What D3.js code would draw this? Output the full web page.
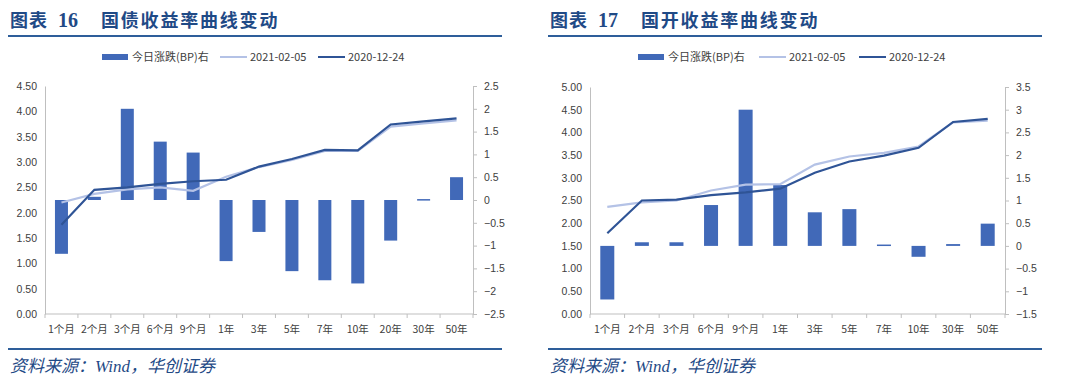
<!DOCTYPE html>
<html>
<head>
<meta charset="utf-8">
<script src="https://cdn.jsdelivr.net/npm/d3@7"></script>
<style>
  body { margin: 0; background: #fff; }
  svg { display: block; }
</style>
</head>
<body>
<svg id="chart"></svg>
<script>
// 国债
var bondCats = ["1个月","2个月","3个月","6个月","9个月","1年","3年","5年","7年","10年","20年","30年","50年"];
var bondChange = [-1.18, 0.07, 2.0, 1.28, 1.04, -1.34, -0.70, -1.56, -1.76, -1.83, -0.89, 0.02, 0.50];
var bondY0205 = [2.20, 2.37, 2.46, 2.50, 2.43, 2.71, 2.90, 3.04, 3.22, 3.22, 3.70, 3.76, 3.82];
var bondY1224 = [1.76, 2.45, 2.50, 2.57, 2.62, 2.65, 2.91, 3.06, 3.24, 3.23, 3.74, 3.80, 3.86];

// 国开
var cdbCats = ["1个月","2个月","3个月","6个月","9个月","1年","3年","5年","7年","10年","30年","50年"];
var cdbChange = [-1.18, 0.08, 0.08, 0.90, 3.0, 1.34, 0.74, 0.81, 0.03, -0.24, 0.04, 0.49];
var cdbY0205 = [2.36, 2.46, 2.50, 2.72, 2.85, 2.86, 3.29, 3.47, 3.55, 3.69, 4.22, 4.26];
var cdbY1224 = [1.78, 2.50, 2.52, 2.62, 2.68, 2.76, 3.11, 3.36, 3.49, 3.66, 4.23, 4.30];

var legendNames = ["今日涨跌(BP)右", "2021-02-05", "2020-12-24"];

var svg = d3.select("#chart").attr("width", 1080).attr("height", 388);
var width = 1080, height = 388;

var barColor = "#4169B8";
var lightColor = "#B4C2E6";
var darkColor = "#2F5496";
var titleColor = "#1F4A86";
var axisColor = "#BFBFBF";
var textColor = "#404040";
var cjk = "'Noto Sans CJK SC', 'Noto Sans', sans-serif";
var serif = "'Liberation Serif', 'Noto Sans CJK SC', serif";

svg.append("rect").attr("width", width).attr("height", height).attr("fill", "#fff");

function drawPanel(o) {
  var g = svg.append("g").attr("transform", "translate(" + o.x + ",0)");

  // title, in three parts like the report's spacing
  var tt = g.append("g").attr("font-family", serif).attr("font-weight", "bold")
    .attr("font-size", 18).attr("fill", titleColor);
  tt.append("text").attr("x", 10).attr("y", 27).attr("letter-spacing", 1).text("图表");
  tt.append("text").attr("x", 58).attr("y", 27).attr("font-size", 20).text(o.num);
  tt.append("text").attr("x", 101).attr("y", 27).attr("letter-spacing", 1.8).text(o.title);

  g.append("line")
    .attr("x1", 8).attr("x2", 502).attr("y1", 36).attr("y2", 36)
    .attr("stroke", "#2E5E9A").attr("stroke-width", 2);

  g.append("line")
    .attr("x1", 8).attr("x2", 502).attr("y1", 349).attr("y2", 349)
    .attr("stroke", "#2E5E9A").attr("stroke-width", 2);

  g.append("text")
    .attr("x", 10).attr("y", 372)
    .attr("font-family", serif)
    .attr("font-style", "italic")
    .attr("font-size", 17)
    .attr("fill", titleColor)
    .text("资料来源：Wind，华创证券");

  // legend
  var lg = g.append("g").attr("font-family", cjk).attr("font-size", 11).attr("fill", textColor);
  lg.append("rect").attr("x", o.leg[0]).attr("y", 54).attr("width", 26).attr("height", 6).attr("fill", barColor);
  lg.append("text").attr("x", o.leg[0] + 30).attr("y", 61).text(legendNames[0]);
  lg.append("line").attr("x1", o.leg[1]).attr("x2", o.leg[1] + 27).attr("y1", 57).attr("y2", 57)
    .attr("stroke", lightColor).attr("stroke-width", 2);
  lg.append("text").attr("x", o.leg[1] + 30).attr("y", 61).text(legendNames[1]);
  lg.append("line").attr("x1", o.leg[2]).attr("x2", o.leg[2] + 27).attr("y1", 57).attr("y2", 57)
    .attr("stroke", darkColor).attr("stroke-width", 2);
  lg.append("text").attr("x", o.leg[2] + 30).attr("y", 61).text(legendNames[2]);

  // scales
  var x = d3.scaleBand().domain(o.cats).range([o.left, o.right]).paddingInner(0).paddingOuter(0);
  var yL = d3.scaleLinear().domain(o.leftDomain).range([o.bottom, o.top]);
  var yR = d3.scaleLinear().domain(o.rightDomain).range([o.bottom, o.top]);

  // left axis
  var leftTicks = d3.range(o.leftDomain[0], o.leftDomain[1] + 0.001, 0.5);
  var axL = g.append("g").attr("transform", "translate(" + o.left + ",0)")
    .call(d3.axisLeft(yL).tickValues(leftTicks).tickFormat(d3.format(".2f")).tickSize(0).tickPadding(8));
  axL.select(".domain").attr("stroke", axisColor);
  axL.selectAll("text").attr("font-family", "'Liberation Sans', 'Noto Sans', sans-serif")
    .attr("font-size", 10.5).attr("fill", textColor);

  // right axis
  var rightTicks = d3.range(o.rightDomain[0], o.rightDomain[1] + 0.001, 0.5);
  var axR = g.append("g").attr("transform", "translate(" + o.right + ",0)")
    .call(d3.axisRight(yR).tickValues(rightTicks).tickFormat(d => d3.format("")(+d.toFixed(1))).tickSize(4).tickPadding(7));
  axR.select(".domain").attr("stroke", axisColor);
  axR.selectAll("line").attr("stroke", axisColor);
  axR.selectAll("text").attr("font-family", "'Liberation Sans', 'Noto Sans', sans-serif")
    .attr("font-size", 10.5).attr("fill", textColor).attr("text-anchor", "start");

  // x axis
  var axX = g.append("g").attr("transform", "translate(0," + o.bottom + ")");
  axX.append("line").attr("x1", o.left).attr("x2", o.right).attr("y1", 0).attr("y2", 0).attr("stroke", axisColor);
  axX.selectAll("line.tk")
    .data(d3.range(o.cats.length + 1))
    .enter().append("line")
    .attr("class", "tk")
    .attr("x1", i => o.left + i * x.step()).attr("x2", i => o.left + i * x.step())
    .attr("y1", 0).attr("y2", 4)
    .attr("stroke", axisColor);
  axX.selectAll("text")
    .data(o.cats)
    .enter().append("text")
    .attr("x", d => x(d) + x.bandwidth() / 2)
    .attr("y", 19)
    .attr("text-anchor", "middle")
    .attr("font-family", cjk)
    .attr("font-size", 10.5)
    .attr("fill", textColor)
    .text(d => d);

  // bars
  var bw = o.barW;
  g.append("g").selectAll("rect")
    .data(o.change)
    .enter().append("rect")
    .attr("x", (d, i) => x(o.cats[i]) + x.bandwidth() / 2 - bw / 2)
    .attr("width", bw)
    .attr("y", d => Math.min(yR(d), yR(0)))
    .attr("height", d => Math.max(1.5, Math.abs(yR(d) - yR(0))))
    .attr("fill", barColor);

  // lines
  var line = d3.line()
    .x((d, i) => x(o.cats[i]) + x.bandwidth() / 2)
    .y(d => yL(d));

  g.append("path").datum(o.light)
    .attr("d", line).attr("fill", "none")
    .attr("stroke", lightColor).attr("stroke-width", 2.2);
  g.append("path").datum(o.dark)
    .attr("d", line).attr("fill", "none")
    .attr("stroke", darkColor).attr("stroke-width", 2.2);
}

drawPanel({
  x: 0,
  num: "16",
  title: "国债收益率曲线变动",
  leg: [102, 220, 318],
  cats: bondCats, change: bondChange, light: bondY0205, dark: bondY1224,
  left: 45, right: 473, top: 86, bottom: 314,
  leftDomain: [0, 4.5], rightDomain: [-2.5, 2.5],
  barW: 13
});

drawPanel({
  x: 540,
  num: "17",
  title: "国开收益率曲线变动",
  leg: [98, 219, 319],
  cats: cdbCats, change: cdbChange, light: cdbY0205, dark: cdbY1224,
  left: 50, right: 465, top: 87, bottom: 314,
  leftDomain: [0, 5], rightDomain: [-1.5, 3.5],
  barW: 14
});
</script>
</body>
</html>
